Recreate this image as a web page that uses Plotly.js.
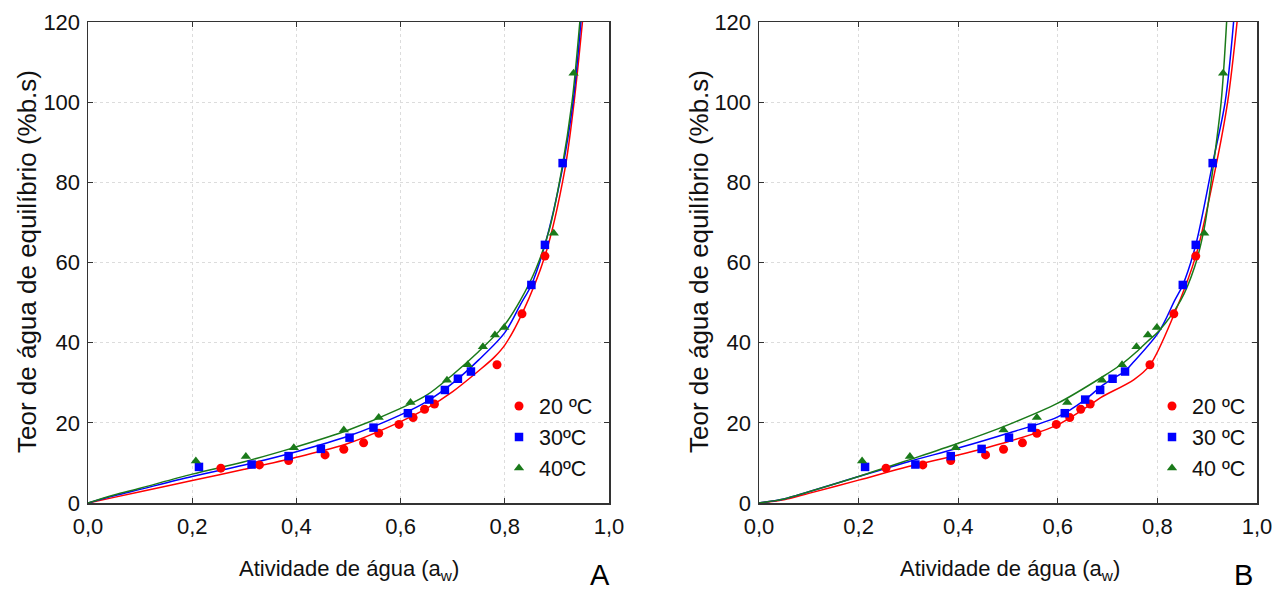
<!DOCTYPE html>
<html><head><meta charset="utf-8">
<script src="https://cdn.plot.ly/plotly-3.0.1.min.js"></script>
<style>html,body{margin:0;padding:0;background:#fff;} #chart{width:1288px;height:594px;}</style>
</head><body><div id="chart"></div>
<script>
// ---- experimental points (same in both panels) ----
const aw20 = [0.255,0.329,0.385,0.455,0.491,0.529,0.558,0.597,0.624,0.646,0.665,0.785,0.833,0.877];
const m20  = [8.7,9.5,10.6,12.0,13.4,15.0,17.4,19.6,21.3,23.4,24.7,34.5,47.2,61.6];
const aw30 = [0.213,0.314,0.385,0.447,0.502,0.548,0.614,0.655,0.685,0.710,0.735,0.851,0.877,0.911];
const m30  = [9.0,9.6,11.7,13.5,16.3,18.8,22.4,25.8,28.2,31.0,32.8,54.4,64.4,84.8];
const aw40 = [0.207,0.303,0.395,0.491,0.558,0.619,0.689,0.729,0.758,0.781,0.799,0.894,0.932];
const m40  = [10.5,11.6,13.8,18.2,21.3,25.1,30.6,34.5,39.0,41.9,43.8,67.3,107.2];

// ---- fitted curves, panel A ----
const fitA20x = [0,0.05,0.1,0.2,0.3,0.4,0.5,0.6,0.65,0.7,0.75,0.78,0.8,0.833,0.877,0.915,0.933,0.949];
const fitA20y = [0,1.4,2.8,5.6,8.4,11.4,14.9,20.3,23.6,27.8,33.0,36.4,39.4,47.2,61.6,83,100,120];
const fitA30x = [0,0.05,0.1,0.2,0.3,0.4,0.5,0.6,0.65,0.7,0.75,0.8,0.83,0.851,0.877,0.91,0.931,0.946];
const fitA30y = [0,1.8,3.4,6.6,9.5,12.8,16.7,22.0,25.3,29.9,35.7,42.5,49.5,54.4,64.4,83,100,120];
const fitA40x = [0,0.05,0.1,0.2,0.3,0.4,0.5,0.6,0.65,0.7,0.75,0.8,0.83,0.86,0.885,0.909,0.929,0.944];
const fitA40y = [0,2.0,3.7,7.2,10.3,14.0,18.2,23.6,26.9,32.0,37.8,44.5,50.6,58.5,68,83,100,120];

// ---- fitted curves, panel B ----
const fitB20x = [0,0.05,0.1,0.2,0.3,0.4,0.5,0.6,0.665,0.686,0.753,0.785,0.834,0.877,0.916,0.941,0.960];
const fitB20y = [0,0.8,2.4,5.7,9.1,12.0,15.3,19.5,24.5,26.3,30.8,34.4,47.2,61.6,83.1,100,120];
const fitB30x = [0,0.05,0.1,0.2,0.3,0.4,0.5,0.6,0.655,0.686,0.71,0.734,0.753,0.803,0.835,0.851,0.877,0.911,0.936,0.953];
const fitB30y = [0,1.0,2.8,6.6,10.3,13.7,17.4,21.5,25.8,29.0,31.0,32.8,35.3,42.7,50.6,54.4,64.4,84.8,100,120];
const fitB40x = [0,0.05,0.1,0.2,0.3,0.4,0.5,0.6,0.69,0.73,0.757,0.78,0.803,0.847,0.875,0.894,0.911,0.928,0.939];
const fitB40y = [0,1.0,2.8,6.6,10.7,14.9,19.5,24.9,31.5,34.8,37.6,40.3,42.9,50.6,59,68.5,83,100,120];

const legendNamesA = ['20 ºC','30ºC','40ºC'];
const legendNamesB = ['20 ºC','30 ºC','40 ºC'];
const xTitle = 'Atividade de água (a<sub>w</sub>)';
const yTitle = 'Teor de água de equilíbrio (%b.s)';
const panelLabels = ['A','B'];

const RED = '#ff0000', BLUE = '#0000ff', GREEN = '#1a7a1a';
const SANS = 'Liberation Sans, Arial, sans-serif';

function line(x, y, color, xa, ya) {
  return {x, y, xaxis: xa, yaxis: ya, type: 'scatter', mode: 'lines',
    line: {color, width: 1.5, shape: 'spline', smoothing: 0.9}, showlegend: false, hoverinfo: 'skip'};
}
function pts(x, y, color, symbol, size, name, xa, ya, leg) {
  return {x, y, xaxis: xa, yaxis: ya, type: 'scatter', mode: 'markers', name,
    legend: leg, marker: {color, symbol, size}, showlegend: true};
}

const traces = [
  line(fitA20x, fitA20y, RED, 'x', 'y'),
  line(fitA30x, fitA30y, BLUE, 'x', 'y'),
  line(fitA40x, fitA40y, GREEN, 'x', 'y'),
  pts(aw20, m20, RED, 'circle', 9, legendNamesA[0], 'x', 'y', 'legend'),
  pts(aw30, m30, BLUE, 'square', 8.5, legendNamesA[1], 'x', 'y', 'legend'),
  pts(aw40, m40, GREEN, 'triangle-up', 9, legendNamesA[2], 'x', 'y', 'legend'),
  line(fitB20x, fitB20y, RED, 'x2', 'y2'),
  line(fitB30x, fitB30y, BLUE, 'x2', 'y2'),
  line(fitB40x, fitB40y, GREEN, 'x2', 'y2'),
  pts(aw20, m20, RED, 'circle', 9, legendNamesB[0], 'x2', 'y2', 'legend2'),
  pts(aw30, m30, BLUE, 'square', 8.5, legendNamesB[1], 'x2', 'y2', 'legend2'),
  pts(aw40, m40, GREEN, 'triangle-up', 9, legendNamesB[2], 'x2', 'y2', 'legend2')
];

const W = 1288, H = 594;
const axCommon = {
  showline: true, linecolor: '#333', linewidth: 1.5, mirror: 'ticks',
  ticks: 'inside', ticklen: 5, tickcolor: '#333', tickwidth: 1,
  showgrid: true, gridcolor: '#dcdcdc', griddash: 'dot', gridwidth: 1,
  zeroline: false, tickfont: {family: SANS, size: 22, color: '#111'}
};
const xax = d => Object.assign({}, axCommon, {domain: d, range: [0, 1], tickvals: [0,0.2,0.4,0.6,0.8,1.0], tickformat: '.1f', ticklabelstandoff: 3});
const yax = (anchor) => Object.assign({}, axCommon, {domain: [91/H, 572/H], range: [0, 120], tickvals: [0,20,40,60,80,100,120], anchor, ticklabelstandoff: 2});

const legCommon = {bgcolor: 'rgba(0,0,0,0)', borderwidth: 0, font: {family: SANS, size: 21.5, color: '#111'},
  xanchor: 'left', yanchor: 'top', itemclick: false, itemdoubleclick: false};

const layout = {
  width: W, height: H, margin: {l: 0, r: 0, t: 0, b: 0},
  paper_bgcolor: '#fff', plot_bgcolor: '#fff', separators: ',.',
  xaxis: xax([88/W, 609/W]), yaxis: yax('x'),
  xaxis2: Object.assign(xax([759/W, 1257/W]), {anchor: 'y2'}), yaxis2: yax('x2'),
  legend: Object.assign({}, legCommon, {x: 499/W, y: 1 - 385.5/H}),
  legend2: Object.assign({}, legCommon, {x: 1152/W, y: 1 - 385.5/H}),
  annotations: [
    {text: xTitle, xref: 'paper', yref: 'paper', x: 348.5/W, y: 1 - 570/H, showarrow: false,
     font: {family: SANS, size: 22, color: '#111'}, xanchor: 'center', yanchor: 'middle'},
    {text: xTitle, xref: 'paper', yref: 'paper', x: 1010/W, y: 1 - 570/H, showarrow: false,
     font: {family: SANS, size: 22, color: '#111'}, xanchor: 'center', yanchor: 'middle'},
    {text: yTitle, xref: 'paper', yref: 'paper', x: 27/W, y: 1 - 262/H, showarrow: false, textangle: -90,
     font: {family: SANS, size: 26, color: '#111'}, xanchor: 'center', yanchor: 'middle'},
    {text: yTitle, xref: 'paper', yref: 'paper', x: 699/W, y: 1 - 262/H, showarrow: false, textangle: -90,
     font: {family: SANS, size: 26, color: '#111'}, xanchor: 'center', yanchor: 'middle'},
    {text: panelLabels[0], xref: 'paper', yref: 'paper', x: 600/W, y: 1 - 575/H, showarrow: false,
     font: {family: SANS, size: 29, color: '#000'}, xanchor: 'center', yanchor: 'middle'},
    {text: panelLabels[1], xref: 'paper', yref: 'paper', x: 1243/W, y: 1 - 575/H, showarrow: false,
     font: {family: SANS, size: 29, color: '#000'}, xanchor: 'center', yanchor: 'middle'}
  ]
};

Plotly.newPlot('chart', traces, layout, {staticPlot: true, displayModeBar: false});
</script></body></html>
